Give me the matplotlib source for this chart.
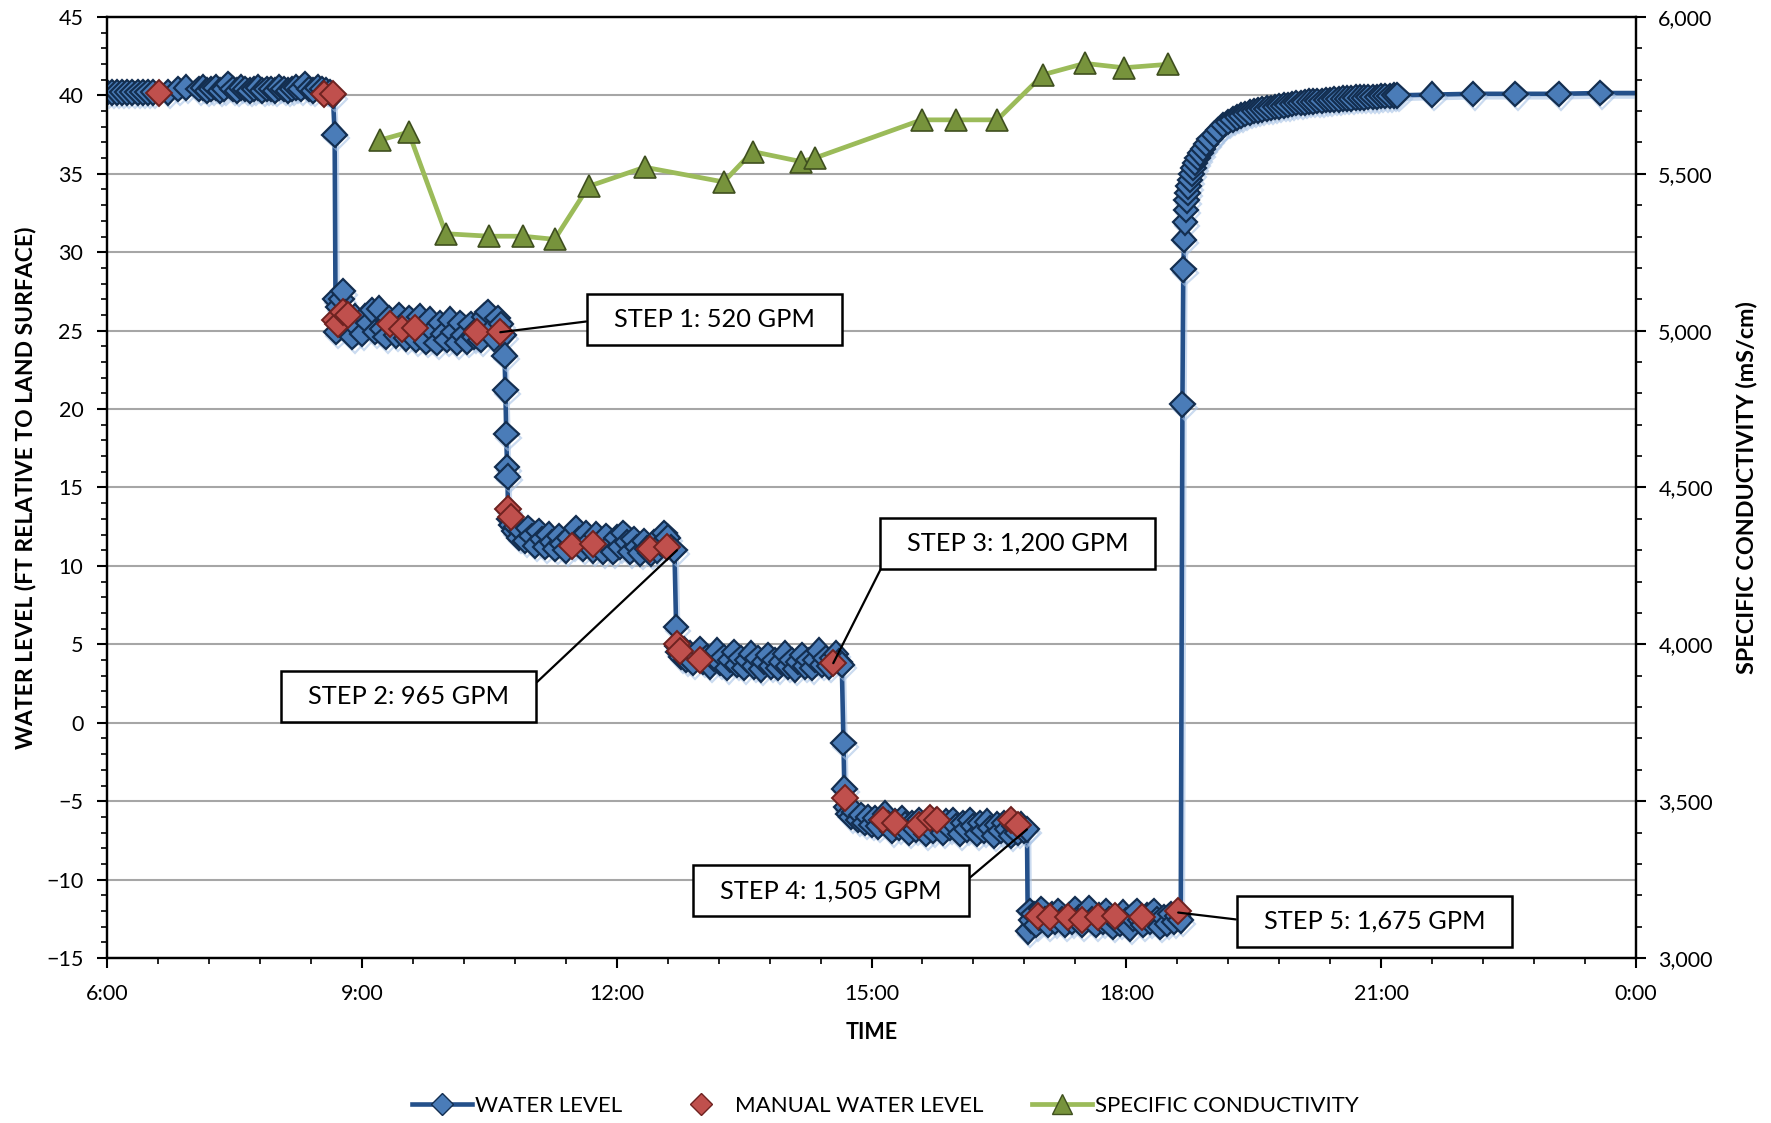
import matplotlib
matplotlib.use('Agg')
import matplotlib.pyplot as plt
import matplotlib.patheffects as pe
from matplotlib.ticker import MultipleLocator, FuncFormatter
from matplotlib.lines import Line2D

plt.rcParams['font.family'] = ['Lato', 'DejaVu Sans']

# times are decimal hours of the test day, water levels in ft
static_t = [6.00, 6.06, 6.12, 6.18, 6.24, 6.30, 6.36, 6.42, 6.48, 6.54, 6.72, 6.84, 6.93,
            7.08, 7.13, 7.18, 7.23, 7.28, 7.33, 7.38, 7.43, 7.48, 7.53, 7.58, 7.63, 7.68,
            7.73, 7.78, 7.83, 7.88, 7.93, 7.98, 8.03, 8.08, 8.13, 8.18, 8.23, 8.28, 8.33,
            8.38, 8.43, 8.48, 8.53, 8.58, 8.62, 8.66]
static_wl = [40.2, 40.2, 40.2, 40.2, 40.2, 40.2, 40.2, 40.2, 40.2, 40.2, 40.2, 40.4, 40.5,
             40.4, 40.5, 40.3, 40.4, 40.5, 40.3, 40.4, 40.7, 40.4, 40.3, 40.5, 40.4, 40.3,
             40.4, 40.5, 40.3, 40.4, 40.4, 40.3, 40.5, 40.4, 40.3, 40.4, 40.5, 40.4, 40.7,
             40.4, 40.3, 40.5, 40.4, 40.3, 40.2, 40.0]

step1_t = [8.68, 8.69, 8.70, 8.72, 8.74, 8.76, 8.78, 8.80, 8.83, 8.86, 8.89, 8.92, 8.96,
           9.00, 9.04, 9.08, 9.12, 9.16, 9.20, 9.24, 9.28, 9.32, 9.36, 9.40, 9.44, 9.48,
           9.52, 9.56, 9.60, 9.64, 9.68, 9.72, 9.76, 9.80, 9.84, 9.88, 9.92, 9.96, 10.00,
           10.04, 10.08, 10.12, 10.16, 10.20, 10.24, 10.28, 10.32, 10.36, 10.40, 10.44,
           10.48, 10.52, 10.56, 10.60, 10.64, 10.67,
           10.68, 10.69, 10.70, 10.71, 10.715]
step1_wl = [37.5, 27.0, 24.9, 26.5, 25.4, 27.0, 27.5, 26.2, 25.0, 25.6, 24.6, 25.9, 25.2,
            24.8, 25.9, 25.5, 26.3, 24.9, 26.4, 25.1, 24.6, 25.8, 25.3, 24.7, 26.0, 25.2,
            24.5, 25.8, 25.0, 24.4, 25.9, 25.2, 24.3, 25.7, 25.0, 24.2, 25.5, 24.8, 24.4,
            25.7, 24.9, 24.2, 25.5, 24.7, 24.3, 25.4, 24.6, 25.1, 24.4, 25.9,
            26.2, 25.0, 24.5, 25.8, 25.4, 24.7,
            23.4, 21.2, 18.4, 16.3, 15.7]

step2_t = [10.72, 10.74, 10.76, 10.79, 10.82, 10.85, 10.88, 10.92, 10.96, 11.00, 11.04,
           11.08, 11.12, 11.16, 11.20, 11.24, 11.28, 11.32, 11.36, 11.40, 11.44, 11.48,
           11.52, 11.56, 11.60, 11.64, 11.68, 11.72, 11.76, 11.80, 11.84, 11.88, 11.92,
           11.96, 12.00, 12.04, 12.08, 12.12, 12.16, 12.20, 12.24, 12.28, 12.32, 12.36,
           12.40, 12.44, 12.48, 12.52, 12.56, 12.60, 12.64, 12.68, 12.70]
step2_wl = [13.6, 13.0, 12.6, 12.2, 12.5, 11.8, 12.2, 11.6, 12.4, 11.9, 11.3,
            12.2, 11.7, 11.2, 12.0, 11.5, 11.1, 11.9, 11.4, 11.0, 11.8, 11.3,
            12.4, 11.7, 11.1, 12.1, 11.5, 11.0, 12.0, 11.4, 10.9, 11.9, 11.3,
            10.9, 11.8, 11.2, 12.1, 11.5, 10.9, 11.7, 11.2, 10.8, 11.6, 11.1,
            10.8, 11.5, 11.0, 11.4, 12.1, 11.8, 11.2, 11.0, 6.1]

step3_t = [12.71, 12.73, 12.76, 12.79, 12.82, 12.86, 12.90, 12.94, 12.98, 13.02, 13.06,
           13.10, 13.14, 13.18, 13.22, 13.26, 13.30, 13.34, 13.38, 13.42, 13.46, 13.50,
           13.54, 13.58, 13.62, 13.66, 13.70, 13.74, 13.78, 13.82, 13.86, 13.90, 13.94,
           13.98, 14.02, 14.06, 14.10, 14.14, 14.18, 14.22, 14.26, 14.30, 14.34, 14.38,
           14.42, 14.46, 14.50, 14.54, 14.58, 14.62, 14.65, 14.67, 14.68]
step3_wl = [4.9, 4.5, 4.2, 4.7, 4.0, 4.4, 3.8, 4.3, 4.7, 3.9, 4.2,
            3.6, 4.1, 4.6, 3.8, 4.2, 3.5, 4.0, 4.5, 3.7, 4.1, 3.5,
            4.0, 4.4, 3.6, 4.1, 3.4, 3.9, 4.3, 3.6, 4.0, 3.5, 3.9,
            4.4, 3.6, 4.0, 3.4, 3.9, 4.3, 3.6, 4.0, 3.5, 4.0, 4.6,
            3.7, 4.1, 3.6, 4.1, 4.4, 3.9, 3.7, -1.3, -4.2]

step4_t = [14.70, 14.73, 14.76, 14.80, 14.84, 14.88, 14.92, 14.96, 15.00, 15.04, 15.08,
           15.12, 15.16, 15.20, 15.24, 15.28, 15.32, 15.36, 15.40, 15.44, 15.48, 15.52,
           15.56, 15.60, 15.64, 15.68, 15.72, 15.76, 15.80, 15.84, 15.88, 15.92, 15.96,
           16.00, 16.04, 16.08, 16.12, 16.16, 16.20, 16.24, 16.28, 16.32, 16.36, 16.40,
           16.44, 16.48, 16.52, 16.56, 16.60, 16.64, 16.68, 16.72, 16.76, 16.80, 16.83]
step4_wl = [-5.4, -5.8, -6.0, -5.7, -6.2, -5.9, -6.4, -6.0, -6.5, -6.1, -6.6,
            -6.2, -5.8, -6.4, -6.9, -6.3, -6.7, -6.1, -6.5, -7.0, -6.4, -6.8,
            -6.2, -6.6, -7.1, -6.5, -6.9, -6.2, -6.6, -7.0, -6.3, -6.7, -6.2,
            -6.6, -7.1, -6.4, -6.8, -6.2, -6.6, -7.1, -6.4, -6.9, -6.3, -6.7,
            -7.2, -6.5, -6.9, -6.4, -6.8, -7.2, -6.6, -7.0, -6.5, -6.9, -6.8]

step5_t = [16.84, 16.86, 16.88, 16.91, 16.94, 16.97, 17.00, 17.04, 17.08, 17.12, 17.16,
           17.20, 17.24, 17.28, 17.32, 17.36, 17.40, 17.44, 17.48, 17.52, 17.56, 17.60,
           17.64, 17.68, 17.72, 17.76, 17.80, 17.84, 17.88, 17.92, 17.96, 18.00, 18.04,
           18.08, 18.12, 18.16, 18.20, 18.24, 18.28, 18.32, 18.36, 18.40, 18.44, 18.48,
           18.52, 18.56, 18.60, 18.64]
step5_wl = [-13.3, -12.0, -12.6, -12.2, -12.9, -12.4, -11.9, -12.5, -12.9, -12.2, -12.7,
            -12.0, -12.5, -12.9, -12.3, -12.7, -11.9, -12.4, -12.9, -12.2, -11.8, -12.5,
            -12.9, -12.3, -12.7, -12.0, -12.5, -13.0, -12.4, -12.8, -12.1, -12.6, -13.1,
            -12.5, -12.0, -12.6, -12.9, -12.3, -12.7, -12.0, -12.5, -13.0, -12.4, -12.8,
            -12.2, -12.7, -12.3, -12.6]

recov_t = [18.66, 18.67, 18.68, 18.69, 18.70, 18.71, 18.72, 18.73, 18.75, 18.77, 18.79,
           18.81, 18.84, 18.87, 18.90, 18.94, 18.98, 19.03, 19.08, 19.14, 19.20, 19.25,
           19.30, 19.35, 19.40, 19.45, 19.50, 19.55, 19.60, 19.65, 19.70, 19.75, 19.80,
           19.85, 19.90, 19.95, 20.00, 20.05, 20.10, 20.15, 20.20, 20.25, 20.30, 20.35,
           20.40, 20.45, 20.50, 20.55, 20.60, 20.65, 20.70, 20.75, 20.80, 20.85, 20.90,
           20.95, 21.00, 21.05, 21.10, 21.15, 21.19,
           21.60, 22.08, 22.58, 23.09, 23.58, 24.00]
recov_wl = [20.3, 28.9, 30.8, 31.9, 32.7, 33.3, 33.8, 34.2, 34.6, 35.0, 35.4,
            35.7, 36.0, 36.3, 36.6, 36.9, 37.2, 37.5, 37.8, 38.1, 38.3, 38.45,
            38.6, 38.7, 38.8, 38.9, 39.0, 39.05, 39.1, 39.15, 39.2, 39.25, 39.3,
            39.35, 39.4, 39.45, 39.5, 39.5, 39.55, 39.6, 39.6, 39.65, 39.65, 39.7,
            39.7, 39.75, 39.75, 39.8, 39.8, 39.8, 39.85, 39.85, 39.85, 39.9, 39.9,
            39.9, 39.95, 39.95, 39.95, 40.0, 40.0,
            40.05, 40.1, 40.1, 40.1, 40.15, 40.15]

manual_t = [6.61, 8.55, 8.66, 8.68, 8.72, 8.78, 8.84, 9.33, 9.47, 9.63, 10.36, 10.63,
            10.72, 10.76, 11.47, 11.72, 12.39, 12.59, 12.71, 12.74, 12.98, 14.55,
            14.69, 15.14, 15.28, 15.56, 15.69, 15.77, 16.64, 16.73,
            16.96, 17.10, 17.31, 17.48, 17.67, 17.87, 18.19, 18.61]
manual_wl = [40.15, 40.1, 40.1, 25.7, 25.4, 26.2, 26.0, 25.4, 25.1, 25.2, 24.9, 24.9,
             13.6, 13.1, 11.3, 11.4, 11.1, 11.2, 5.0, 4.6, 4.0, 3.8,
             -4.8, -6.2, -6.4, -6.5, -6.1, -6.2, -6.2, -6.5,
             -12.3, -12.4, -12.4, -12.6, -12.4, -12.3, -12.4, -12.0]

cond_t = [9.21, 9.55, 9.99, 10.50, 10.90, 11.27, 11.67, 12.33, 13.26, 13.60, 14.17,
          14.33, 15.59, 15.99, 16.48, 17.02, 17.51, 17.97, 18.49]
cond = [5607, 5633, 5309, 5301, 5301, 5291, 5460, 5521, 5474, 5571, 5539,
        5550, 5672, 5672, 5672, 5816, 5852, 5838, 5849]

step_labels = ['STEP 1: 520 GPM', 'STEP 2: 965 GPM', 'STEP 3: 1,200 GPM',
               'STEP 4: 1,505 GPM', 'STEP 5: 1,675 GPM']
step_point_t = [10.63, 12.71, 14.55, 16.83, 18.61]
step_point_wl = [24.9, 11.0, 3.8, -6.8, -12.1]

wl_t = static_t + step1_t + step2_t + step3_t + step4_t + step5_t + recov_t
wl = static_wl + step1_wl + step2_wl + step3_wl + step4_wl + step5_wl + recov_wl

# layout of the callout boxes (centre in data coords, which edge the leader leaves from)
box_pos = [(13.15, 25.7), (9.55, 1.7), (16.72, 11.45), (14.52, -10.7), (20.92, -12.65)]
box_rel = [(0, 0.5), (1, 0.5), (0, 0.5), (1, 0.5), (0, 0.5)]

BLUE_LINE = '#24508A'
BLUE_FILL = '#4A7CB8'
BLUE_EDGE = '#132E50'
RED_FILL = '#C0504D'
RED_EDGE = '#6E2220'
GREEN_LINE = '#9BBB59'
GREEN_FILL = '#77933C'
GREEN_EDGE = '#3F4F1F'

fig = plt.figure(figsize=(17.71, 11.23), dpi=100)
ax = fig.add_axes([0.0604, 0.1469, 0.8634, 0.838])
ax2 = ax.twinx()

glow = [pe.SimpleLineShadow(offset=(1.5, -2.5), shadow_color='#A9C4E6', alpha=0.6), pe.Normal()]

ax.plot(wl_t, wl, color=BLUE_LINE, lw=3.3, marker='D', ms=12.5, mfc=BLUE_FILL,
        mec=BLUE_EDGE, mew=1.6, markevery=list(range(len(wl_t) - 1)),
        path_effects=glow, zorder=3)
ax.plot(manual_t, manual_wl, ls='none', marker='D', ms=13.5, mfc=RED_FILL,
        mec=RED_EDGE, mew=1.4, zorder=4)

ax2.plot(cond_t, cond, color=GREEN_LINE, lw=3.4, marker='^', ms=15.5,
         mfc=GREEN_FILL, mec=GREEN_EDGE, mew=1.2, zorder=3)

ax.set_xlim(6, 24)
ax.set_ylim(-15, 45)
ax2.set_ylim(3000, 6000)

ax.xaxis.set_major_locator(MultipleLocator(3))
ax.xaxis.set_minor_locator(MultipleLocator(0.6))
ax.xaxis.set_major_formatter(FuncFormatter(lambda v, p: f"{int(round(v)) % 24}:00"))
ax.yaxis.set_major_locator(MultipleLocator(5))
ax.yaxis.set_minor_locator(MultipleLocator(1))
ax2.yaxis.set_major_locator(MultipleLocator(500))
ax2.yaxis.set_minor_locator(MultipleLocator(100))
ax2.yaxis.set_major_formatter(FuncFormatter(lambda v, p: f"{int(v):,}"))

ax.yaxis.grid(True, which='major', color='#A6A6A6', lw=1.5)
ax.set_axisbelow(True)

for a in (ax, ax2):
    for s in a.spines.values():
        s.set_linewidth(1.6)
        s.set_color('black')
    a.tick_params(which='major', direction='out', length=7, width=1.5, labelsize=15.5)
    a.tick_params(which='minor', direction='out', length=4, width=1.2)
ax.tick_params(axis='y', pad=10)
ax.tick_params(axis='x', pad=12)
ax2.tick_params(axis='y', pad=9)

ax.set_xlabel('TIME', fontsize=15.5, fontweight='bold')
ax.xaxis.set_label_coords(0.5, -0.068)
ax.set_ylabel('WATER LEVEL (FT RELATIVE TO LAND SURFACE)', fontsize=16.5, fontweight='bold')
ax.yaxis.set_label_coords(-0.046, 0.5)
ax2.set_ylabel('SPECIFIC CONDUCTIVITY (mS/cm)', fontsize=16.8, fontweight='bold')
ax2.yaxis.set_label_coords(1.065, 0.5)

for label, xt, yt, pos, rel in zip(step_labels, step_point_t, step_point_wl, box_pos, box_rel):
    ax2.annotate('  ' + label + '  ', xy=(xt, yt), xycoords=ax.transData,
                 xytext=pos, textcoords=ax.transData, ha='center', va='center',
                 fontsize=18.3, zorder=10,
                 bbox=dict(boxstyle='square,pad=0.55', fc='white', ec='black', lw=1.8),
                 arrowprops=dict(arrowstyle='-', color='black', lw=1.6, relpos=rel,
                                 shrinkA=0, shrinkB=0))

handles = [
    Line2D([], [], color=BLUE_LINE, lw=3.3, marker='D', ms=11, mfc=BLUE_FILL, mec=BLUE_EDGE),
    Line2D([], [], ls='none', marker='D', ms=11, mfc=RED_FILL, mec=RED_EDGE),
    Line2D([], [], color=GREEN_LINE, lw=3.4, marker='^', ms=15, mfc=GREEN_FILL, mec=GREEN_EDGE),
]
fig.legend(handles, ['WATER LEVEL', 'MANUAL WATER LEVEL', 'SPECIFIC CONDUCTIVITY'],
           loc='center', bbox_to_anchor=(0.5, 0.015), ncol=3, frameon=False,
           fontsize=16, handlelength=2.7, handletextpad=0.15, columnspacing=2.2,
           numpoints=1)

fig.savefig('out.png', dpi=100)
